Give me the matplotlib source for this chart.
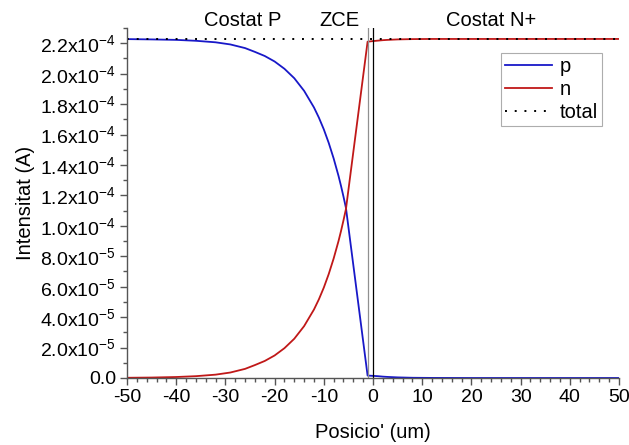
import matplotlib
matplotlib.use("Agg")
import matplotlib.pyplot as plt
from matplotlib.ticker import FixedLocator, MultipleLocator, FixedFormatter

plt.rcParams['font.family'] = ['Liberation Sans', 'DejaVu Sans']
plt.rcParams['mathtext.fontset'] = 'custom'
plt.rcParams['mathtext.rm'] = 'Liberation Sans'
plt.rcParams['mathtext.it'] = 'Liberation Sans:italic'
plt.rcParams['mathtext.bf'] = 'Liberation Sans:bold'
plt.rcParams['axes.unicode_minus'] = False

# Position (um)
x_pos = [-50, -45, -40, -36, -32, -29, -26, -24, -22, -20, -18, -16, -14, -12, -11, -10, -9,
         -8, -7, -6.5, -6, -5.5,
         -1.1, 0, 1, 2, 3, 5, 8, 12, 20, 30, 40, 50]
# hole current p (units of 1e-5 A)
p_vals = [22.27, 22.25, 22.22, 22.16, 22.06, 21.92, 21.68, 21.43, 21.16, 20.80, 20.32, 19.70,
          18.87, 17.78, 17.11, 16.34, 15.45, 14.43, 13.27, 12.62, 11.92, 11.18,
          0.16, 0.14, 0.12, 0.09, 0.07, 0.04, 0.015, 0.005, 0.0, 0.0, 0.0, 0.0]
# electron current n (units of 1e-5 A)
n_vals = [0.015, 0.03, 0.065, 0.12, 0.22, 0.36, 0.60, 0.85, 1.12, 1.48, 1.96, 2.58,
          3.41, 4.50, 5.17, 5.94, 6.83, 7.85, 9.01, 9.66, 10.36, 11.10,
          22.10, 22.14, 22.17, 22.20, 22.22, 22.25, 22.27, 22.28, 22.28, 22.28, 22.28, 22.28]
# total current
x_total = [-50, 50]
total_vals = [22.28, 22.28]

ytick_vals = [0, 2e-5, 4e-5, 6e-5, 8e-5, 1.0e-4, 1.2e-4, 1.4e-4, 1.6e-4, 1.8e-4, 2.0e-4, 2.2e-4]
ytick_labels = ['0.0', r'2.0x10$^{-5}$', r'4.0x10$^{-5}$', r'6.0x10$^{-5}$', r'8.0x10$^{-5}$',
                r'1.0x10$^{-4}$', r'1.2x10$^{-4}$', r'1.4x10$^{-4}$', r'1.6x10$^{-4}$',
                r'1.8x10$^{-4}$', r'2.0x10$^{-4}$', r'2.2x10$^{-4}$']
xticks = [-50, -40, -30, -20, -10, 0, 10, 20, 30, 40, 50]
region_labels = ['Costat P', 'ZCE', 'Costat N+']
region_x = [-26.5, -6.8, 24.0]
zce_edges = [-1.0, 0.0]

scale = 1e-5
p_A = [v * scale for v in p_vals]
n_A = [v * scale for v in n_vals]
t_A = [v * scale for v in total_vals]

fig = plt.figure(figsize=(6.29, 4.45), dpi=100)
ax = fig.add_axes([127/629, 1 - 378/445, (619 - 127)/629, (378 - 28)/445])

blue = '#1818c8'
red = '#c01818'
ax.plot(x_pos, p_A, color=blue, lw=1.3, label='p')
ax.plot(x_pos, n_A, color=red, lw=1.3, label='n')
ax.plot(x_total, t_A, color='black', lw=1.4, linestyle=(0, (1, 4)), label='total')

ax.axvline(zce_edges[0], color='#909090', lw=0.9)
ax.axvline(zce_edges[1], color='black', lw=0.9)

ax.set_xlim(-50, 50)
ax.set_ylim(0, 2.3e-4)

ax.xaxis.set_major_locator(FixedLocator(xticks))
ax.xaxis.set_minor_locator(MultipleLocator(2))
ax.yaxis.set_major_locator(FixedLocator(ytick_vals))
ax.yaxis.set_major_formatter(FixedFormatter(ytick_labels))
ax.yaxis.set_minor_locator(MultipleLocator(1e-5))

for s in ['top', 'right']:
    ax.spines[s].set_visible(False)
for s in ['left', 'bottom']:
    ax.spines[s].set_color('#555555')
    ax.spines[s].set_linewidth(1.0)

ax.tick_params(which='major', length=5, width=1, color='#555555', labelsize=14, direction='out',
               pad=3)
ax.tick_params(which='minor', length=3, width=1, color='#555555', direction='out')

ax.set_xlabel("Posicio' (um)", fontsize=14.5, labelpad=12)
ax.set_ylabel('Intensitat (A)', fontsize=14.5, labelpad=4)

for lab, xv in zip(region_labels, region_x):
    ax.text(xv, 0.995, lab, transform=ax.get_xaxis_transform(), ha='center', va='bottom',
            fontsize=14.5)

leg = ax.legend(loc='upper right', bbox_to_anchor=(602/629, 1 - 53/445), bbox_transform=fig.transFigure,
                frameon=True, fancybox=False, fontsize=14.5, handlelength=2.3,
                borderaxespad=0, labelspacing=0.2, handletextpad=0.4, borderpad=0.2)
leg.get_frame().set_edgecolor('#999999')
leg.get_frame().set_linewidth(0.8)

fig.savefig('out.png', dpi=100)
